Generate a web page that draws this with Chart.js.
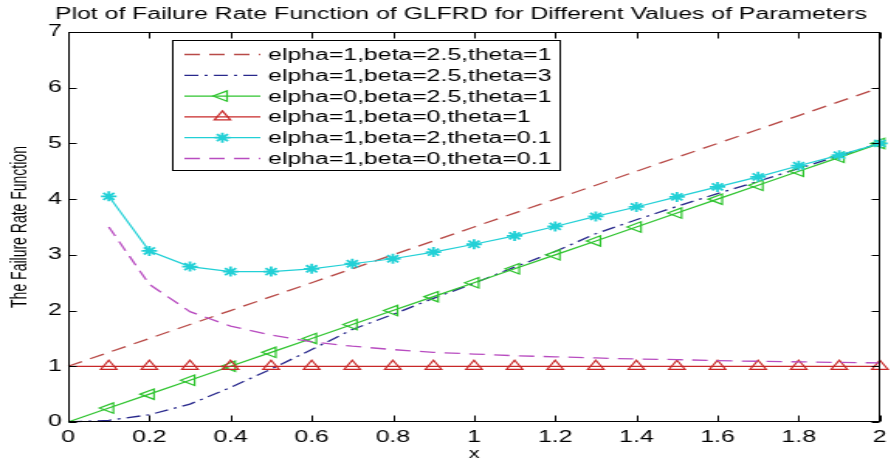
<!DOCTYPE html>
<html>
<head>
<meta charset="utf-8">
<script src="https://cdn.jsdelivr.net/npm/chart.js"></script>
<style>
  html, body { margin: 0; padding: 0; background: #ffffff; overflow: hidden; }
  #wrap { width: 575px; height: 459px; transform: scaleX(1.5496); transform-origin: 0 0; }
  canvas { display: block; }
</style>
</head>
<body>
<div id="wrap"><canvas id="c" width="575" height="459" style="width:575px;height:459px"></canvas></div>
<script>
// ---------------- data ----------------
const xValues = [0, 0.1, 0.2, 0.3, 0.4, 0.5, 0.6, 0.7, 0.8, 0.9, 1.0, 1.1, 1.2, 1.3, 1.4, 1.5, 1.6, 1.7, 1.8, 1.9, 2.0];
const seriesLabels = [
  'elpha=1,beta=2.5,theta=1',
  'elpha=1,beta=2.5,theta=3',
  'elpha=0,beta=2.5,theta=1',
  'elpha=1,beta=0,theta=1',
  'elpha=1,beta=2,theta=0.1',
  'elpha=1,beta=0,theta=0.1'
];
const seriesA = [1, 1.25, 1.5, 1.75, 2, 2.25, 2.5, 2.75, 3, 3.25, 3.5, 3.75, 4, 4.25, 4.5, 4.75, 5, 5.25, 5.5, 5.75, 6];
const seriesB = [0, 0.03, 0.13, 0.32, 0.62, 0.95, 1.3, 1.66, 1.93, 2.22, 2.49, 2.78, 3.06, 3.38, 3.63, 3.87, 4.1, 4.32, 4.55, 4.78, 5.0];
const seriesC = [0, 0.25, 0.5, 0.75, 1, 1.25, 1.5, 1.75, 2, 2.25, 2.5, 2.75, 3, 3.25, 3.5, 3.75, 4, 4.25, 4.5, 4.75, 5];
const seriesD = [1, 1, 1, 1, 1, 1, 1, 1, 1, 1, 1, 1, 1, 1, 1, 1, 1, 1, 1, 1, 1];
const seriesE = [null, 4.05, 3.07, 2.79, 2.70, 2.70, 2.75, 2.84, 2.93, 3.05, 3.19, 3.34, 3.51, 3.69, 3.86, 4.04, 4.22, 4.40, 4.60, 4.79, 5.0];
const seriesF = [null, 3.5, 2.47, 1.98, 1.72, 1.56, 1.44, 1.36, 1.3, 1.25, 1.22, 1.19, 1.17, 1.15, 1.13, 1.12, 1.1, 1.09, 1.08, 1.07, 1.06];
const xTicks = [0, 0.2, 0.4, 0.6, 0.8, 1, 1.2, 1.4, 1.6, 1.8, 2];
const yTicks = [0, 1, 2, 3, 4, 5, 6, 7];
const titleText = 'Plot of Failure Rate Function of GLFRD for Different Values of Parameters';
const xTitle = 'x';
const yTitle = 'The Failure Rate Function';

// ---------------- helpers ----------------
function pts(arr) {
  const out = [];
  xValues.forEach((x, i) => { if (arr[i] !== null && arr[i] !== undefined) out.push({ x: x, y: arr[i] }); });
  return out;
}
const FONT = "'Liberation Sans', Arial, sans-serif";
const hideAtZero = (c) => (c.raw && c.raw.x === 0) ? 0 : 6;

const datasets = [
  { label: seriesLabels[0], data: pts(seriesA), borderColor: '#b84a47', borderDash: [10, 6], borderWidth: 1.3, pointRadius: 0, order: 6 },
  { label: seriesLabels[1], data: pts(seriesB), borderColor: '#28288c', borderDash: [9, 4, 2, 4], borderWidth: 1.3, pointRadius: 0, order: 5 },
  { label: seriesLabels[2], data: pts(seriesC), borderColor: '#2fc42f', borderWidth: 1.2, pointStyle: 'triangle', pointRotation: -90, pointRadius: hideAtZero, pointBorderWidth: 1.2, pointBackgroundColor: 'rgba(0,0,0,0)', pointBorderColor: '#2fc42f', order: 4 },
  { label: seriesLabels[3], data: pts(seriesD), borderColor: '#c82828', borderWidth: 1.2, pointStyle: 'triangle', pointRotation: 0, pointRadius: hideAtZero, pointBorderWidth: 1.2, pointBackgroundColor: 'rgba(0,0,0,0)', pointBorderColor: '#c82828', order: 3 },
  { label: seriesLabels[4], data: pts(seriesE), borderColor: '#22d0d6', borderWidth: 1.2, pointStyle: 'star', pointRadius: 5, pointBorderWidth: 1.8, pointBackgroundColor: '#22d0d6', pointBorderColor: '#22d0d6', order: 2 },
  { label: seriesLabels[5], data: pts(seriesF), borderColor: '#b84cc0', borderDash: [10, 6], borderWidth: 1.3, pointRadius: 0, order: 1 }
];
datasets.forEach(d => { d.fill = false; d.tension = 0; d.clip = false; d.showLine = true; });

// title, box, inward ticks, and legend inside the axes
const decorPlugin = {
  id: 'decor',
  afterDraw(chart) {
    const ctx = chart.ctx;
    const a = chart.chartArea;
    const xs = chart.scales.x, ys = chart.scales.y;
    const L = Math.round(a.left) + 0.5, R = Math.round(a.right) - 0.5;
    const T = Math.round(a.top) + 0.5, B = Math.round(a.bottom) - 0.5;
    ctx.save();
    // title
    ctx.fillStyle = '#000';
    ctx.font = '16px ' + FONT;
    ctx.textAlign = 'center';
    ctx.textBaseline = 'middle';
    ctx.fillText(titleText, 297.5, 15);

    ctx.strokeStyle = '#000';
    ctx.lineWidth = 1;
    ctx.setLineDash([]);
    ctx.strokeRect(L, T, R - L, B - T);
    ctx.beginPath();
    xTicks.forEach(v => {
      const p = Math.round(xs.getPixelForValue(v)) + 0.5;
      ctx.moveTo(p, B); ctx.lineTo(p, B - 6);
      ctx.moveTo(p, T); ctx.lineTo(p, T + 6);
    });
    yTicks.forEach(v => {
      const p = Math.round(ys.getPixelForValue(v)) + 0.5;
      ctx.moveTo(L, p); ctx.lineTo(L + 5, p);
      ctx.moveTo(R, p); ctx.lineTo(R - 5, p);
    });
    ctx.stroke();

    // legend
    const bx = 111.5, by = 40.5, bw = 250, bh = 130;
    ctx.fillStyle = '#fff';
    ctx.fillRect(bx, by, bw, bh);
    ctx.strokeStyle = '#000';
    ctx.strokeRect(bx, by, bw, bh);
    chart.data.datasets.forEach((d, i) => {
      const y = 54.5 + i * 20.8;
      ctx.save();
      ctx.strokeStyle = d.borderColor;
      ctx.lineWidth = d.borderWidth;
      ctx.setLineDash(d.borderDash || []);
      ctx.beginPath();
      ctx.moveTo(119, y); ctx.lineTo(168, y);
      ctx.stroke();
      ctx.setLineDash([]);
      if (d.pointStyle) {
        ctx.strokeStyle = d.pointBorderColor;
        ctx.fillStyle = d.pointBackgroundColor;
        ctx.lineWidth = d.pointBorderWidth;
        Chart.helpers.drawPoint(ctx, { pointStyle: d.pointStyle, rotation: d.pointRotation || 0, radius: d.pointStyle === 'star' ? 5 : 6, borderWidth: d.pointBorderWidth }, 143.5, y);
      }
      ctx.restore();
      ctx.fillStyle = '#000';
      ctx.font = '16px ' + FONT;
      ctx.textBaseline = 'middle';
      ctx.textAlign = 'left';
      ctx.fillText(d.label, 173, y + 1);
    });
    ctx.restore();
  }
};

new Chart(document.getElementById('c'), {
  type: 'line',
  data: { datasets: datasets },
  options: {
    responsive: false,
    animation: false,
    devicePixelRatio: 1,
    layout: { padding: { left: 0, right: 2, top: 32, bottom: 0 } },
    plugins: {
      legend: { display: false },
      tooltip: { enabled: false },
      title: { display: false }
    },
    scales: {
      x: {
        type: 'linear', min: 0, max: 2,
        grid: { display: false, drawTicks: false },
        border: { display: false },
        afterBuildTicks: s => { s.ticks = xTicks.map(v => ({ value: v })); },
        afterFit: s => { s.height = 37; s.paddingRight = 0; s.paddingLeft = 0; },
        ticks: { color: '#000', padding: 6, maxRotation: 0, autoSkip: false, font: { family: FONT, size: 16 }, callback: v => String(v) },
        title: { display: true, text: xTitle, color: '#000', font: { family: FONT, size: 14, lineHeight: '10px' }, padding: { top: 0, bottom: 0 } }
      },
      y: {
        type: 'linear', min: 0, max: 7,
        grid: { display: false, drawTicks: false },
        border: { display: false },
        afterBuildTicks: s => { s.ticks = yTicks.map(v => ({ value: v })); },
        afterFit: s => { s.width = 44; s.paddingTop = 0; },
        ticks: { color: '#000', padding: 4, autoSkip: false, font: { family: FONT, size: 16 }, callback: v => String(v) },
        title: { display: true, text: yTitle, color: '#000', font: { family: FONT, size: 14 }, padding: { top: 5, bottom: 0 } }
      }
    }
  },
  plugins: [decorPlugin]
});
</script>
</body>
</html>
